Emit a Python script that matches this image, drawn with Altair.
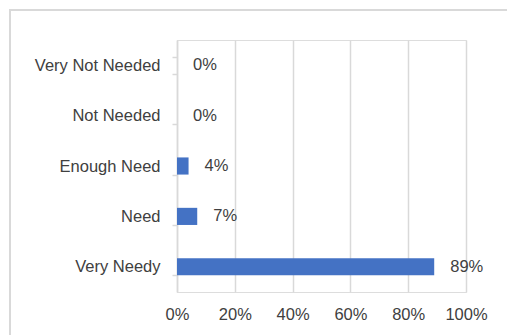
import altair as alt
import pandas as pd

categories = ["Very Not Needed", "Not Needed", "Enough Need", "Need", "Very Needy"]
values = [0.0, 0.0, 0.04, 0.07, 0.89]
x_ticks = [0, 0.2, 0.4, 0.6, 0.8, 1.0]

df = pd.DataFrame({"category": categories, "value": values})

FONT = "Liberation Sans"
FS = 16.5
TXT = "#404040"
GRID = "#d9d9d9"
W, H = 289, 252

x_enc = alt.X("value:Q",
              scale=alt.Scale(domain=[0, 1], nice=False),
              axis=alt.Axis(values=x_ticks, format="%", grid=True, gridColor=GRID,
                            gridWidth=1.5, domain=False, ticks=False, labelPadding=14,
                            labelFontSize=FS, labelFont=FONT, labelColor=TXT, title=None,
                            labelFlush=False))
y_enc = alt.Y("category:N", sort=categories,
              scale=alt.Scale(paddingInner=0.66, paddingOuter=0.33),
              axis=alt.Axis(title=None, domain=True, domainColor=GRID, domainWidth=1.5,
                            ticks=True, tickColor=GRID, tickWidth=1.5, tickSize=5,
                            tickBand="extent", labelPadding=12, labelFontSize=FS,
                            labelFont=FONT, labelColor=TXT, grid=False))

bars = alt.Chart(df).mark_bar(color="#4472C4").encode(x=x_enc, y=y_enc)

labels = alt.Chart(df).mark_text(align="left", baseline="middle", dx=16,
                                 fontSize=FS, font=FONT, color=TXT).encode(
    x="value:Q", y=alt.Y("category:N", sort=categories),
    text=alt.Text("value:Q", format=".0%"))

border = alt.Chart(pd.DataFrame({"a": [0]})).mark_rect(
    fill=None, stroke=GRID, strokeWidth=2).encode(
    x=alt.value(-167), x2=alt.value(W + 80), y=alt.value(-30), y2=alt.value(H + 80))

chart = alt.layer(border, bars, labels).properties(
    width=W, height=H,
    autosize=alt.AutoSizeParams(type="none"),
    padding={"left": 177, "top": 40, "right": 41, "bottom": 43},
).configure_view(stroke=None).configure(background="white")

chart.save("out.html", embed_options={"renderer": "svg", "actions": False})
